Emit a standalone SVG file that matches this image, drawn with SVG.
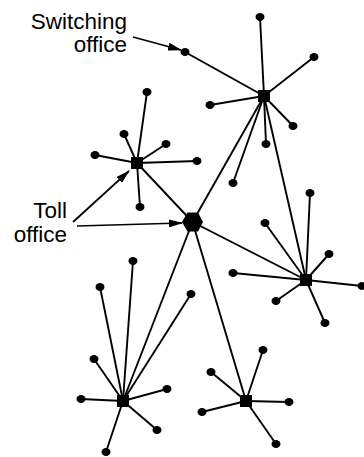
<svg xmlns="http://www.w3.org/2000/svg" width="364" height="457" viewBox="0 0 364 457">
  <style>
    .link { stroke: #000; stroke-width: 1.9; fill: none; }
    .ptr { stroke: #000; stroke-width: 1.7; fill: none; marker-end: url(#head); }
    .leaf { fill: #000; }
    .hub { fill: #000; }
    .label { font-family: "Liberation Sans", Arial, sans-serif; font-size: 22.5px; fill: #000; text-anchor: end; }
  </style>
  <defs>
    <marker id="head" viewBox="0 0 14 8" refX="13" refY="4" markerWidth="14" markerHeight="8" markerUnits="userSpaceOnUse" orient="auto">
      <path d="M0,0 L14,4 L0,8 Z" fill="#000"/>
    </marker>
  </defs>
  <rect width="364" height="457" fill="#fff"/>

  <!-- connectors: trunks between offices and local loops to subscribers -->
  <g id="connectors">
    <!-- trunks -->
    <line class="link" x1="192.5" y1="222" x2="264" y2="96"/>
    <line class="link" x1="192.5" y1="222" x2="137" y2="163"/>
    <line class="link" x1="192.5" y1="222" x2="306" y2="280"/>
    <line class="link" x1="192.5" y1="222" x2="123" y2="401"/>
    <line class="link" x1="192.5" y1="222" x2="246" y2="401"/>
    <line class="link" x1="264" y1="96" x2="306" y2="280"/>
    <!-- top office loops -->
    <line class="link" x1="264" y1="96" x2="260" y2="17"/>
    <line class="link" x1="264" y1="96" x2="185" y2="52"/>
    <line class="link" x1="264" y1="96" x2="314" y2="57"/>
    <line class="link" x1="264" y1="96" x2="210" y2="105"/>
    <line class="link" x1="264" y1="96" x2="293" y2="126"/>
    <line class="link" x1="264" y1="96" x2="266" y2="144"/>
    <line class="link" x1="264" y1="96" x2="233" y2="183"/>
    <!-- upper-left office loops -->
    <line class="link" x1="137" y1="163" x2="147" y2="92"/>
    <line class="link" x1="137" y1="163" x2="124" y2="134"/>
    <line class="link" x1="137" y1="163" x2="166" y2="144"/>
    <line class="link" x1="137" y1="163" x2="95" y2="155"/>
    <line class="link" x1="137" y1="163" x2="197" y2="161"/>
    <line class="link" x1="137" y1="163" x2="140" y2="207"/>
    <!-- right office loops -->
    <line class="link" x1="306" y1="280" x2="310" y2="193"/>
    <line class="link" x1="306" y1="280" x2="265" y2="223"/>
    <line class="link" x1="306" y1="280" x2="329" y2="254"/>
    <line class="link" x1="306" y1="280" x2="233" y2="273"/>
    <line class="link" x1="306" y1="280" x2="362" y2="286"/>
    <line class="link" x1="306" y1="280" x2="276" y2="301"/>
    <line class="link" x1="306" y1="280" x2="325" y2="323"/>
    <!-- bottom-left office loops -->
    <line class="link" x1="123" y1="401" x2="133" y2="261"/>
    <line class="link" x1="123" y1="401" x2="100" y2="287"/>
    <line class="link" x1="123" y1="401" x2="191" y2="294"/>
    <line class="link" x1="123" y1="401" x2="94" y2="359"/>
    <line class="link" x1="123" y1="401" x2="81" y2="399"/>
    <line class="link" x1="123" y1="401" x2="167" y2="389"/>
    <line class="link" x1="123" y1="401" x2="157" y2="430"/>
    <line class="link" x1="123" y1="401" x2="106" y2="452"/>
    <!-- bottom-right office loops -->
    <line class="link" x1="246" y1="401" x2="263" y2="350"/>
    <line class="link" x1="246" y1="401" x2="211" y2="372"/>
    <line class="link" x1="246" y1="401" x2="289" y2="402"/>
    <line class="link" x1="246" y1="401" x2="202" y2="412"/>
    <line class="link" x1="246" y1="401" x2="276" y2="444"/>
    <!-- label pointers -->
    <line class="ptr" x1="133" y1="37" x2="181" y2="50"/>
    <line class="ptr" x1="73" y1="222" x2="129" y2="171"/>
    <line class="ptr" x1="77" y1="226" x2="182" y2="223"/>
  </g>

  <!-- toll office -->
  <g id="toll-office">
    <polygon class="hub" points="182,222 187.5,212.5 198,212.5 203,222 198,231.5 187.5,231.5"/>
  </g>

  <!-- switching offices with their subscribers -->
  <g id="office-top">
    <rect class="hub" x="258" y="90" width="12" height="12"/>
    <ellipse class="leaf" cx="260" cy="17" rx="4.5" ry="4"/>
    <ellipse class="leaf" cx="185" cy="52" rx="4.5" ry="4"/>
    <ellipse class="leaf" cx="314" cy="57" rx="4.5" ry="4"/>
    <ellipse class="leaf" cx="210" cy="105" rx="4.5" ry="4"/>
    <ellipse class="leaf" cx="293" cy="126" rx="4.5" ry="4"/>
    <ellipse class="leaf" cx="266" cy="144" rx="4.5" ry="4"/>
    <ellipse class="leaf" cx="233" cy="183" rx="4.5" ry="4"/>
  </g>
  <g id="office-upper-left">
    <rect class="hub" x="131" y="157" width="12" height="12"/>
    <ellipse class="leaf" cx="147" cy="92" rx="4.5" ry="4"/>
    <ellipse class="leaf" cx="124" cy="134" rx="4.5" ry="4"/>
    <ellipse class="leaf" cx="166" cy="144" rx="4.5" ry="4"/>
    <ellipse class="leaf" cx="95" cy="155" rx="4.5" ry="4"/>
    <ellipse class="leaf" cx="197" cy="161" rx="4.5" ry="4"/>
    <ellipse class="leaf" cx="140" cy="207" rx="4.5" ry="4"/>
  </g>
  <g id="office-right">
    <rect class="hub" x="300" y="274" width="12" height="12"/>
    <ellipse class="leaf" cx="310" cy="193" rx="4.5" ry="4"/>
    <ellipse class="leaf" cx="265" cy="223" rx="4.5" ry="4"/>
    <ellipse class="leaf" cx="329" cy="254" rx="4.5" ry="4"/>
    <ellipse class="leaf" cx="233" cy="273" rx="4.5" ry="4"/>
    <ellipse class="leaf" cx="362" cy="286" rx="4.5" ry="4"/>
    <ellipse class="leaf" cx="276" cy="301" rx="4.5" ry="4"/>
    <ellipse class="leaf" cx="325" cy="323" rx="4.5" ry="4"/>
  </g>
  <g id="office-bottom-left">
    <rect class="hub" x="117" y="395" width="12" height="12"/>
    <ellipse class="leaf" cx="133" cy="261" rx="4.5" ry="4"/>
    <ellipse class="leaf" cx="100" cy="287" rx="4.5" ry="4"/>
    <ellipse class="leaf" cx="191" cy="294" rx="4.5" ry="4"/>
    <ellipse class="leaf" cx="94" cy="359" rx="4.5" ry="4"/>
    <ellipse class="leaf" cx="81" cy="399" rx="4.5" ry="4"/>
    <ellipse class="leaf" cx="167" cy="389" rx="4.5" ry="4"/>
    <ellipse class="leaf" cx="157" cy="430" rx="4.5" ry="4"/>
    <ellipse class="leaf" cx="106" cy="452" rx="4.5" ry="4"/>
  </g>
  <g id="office-bottom-right">
    <rect class="hub" x="240" y="395" width="12" height="12"/>
    <ellipse class="leaf" cx="263" cy="350" rx="4.5" ry="4"/>
    <ellipse class="leaf" cx="211" cy="372" rx="4.5" ry="4"/>
    <ellipse class="leaf" cx="289" cy="402" rx="4.5" ry="4"/>
    <ellipse class="leaf" cx="202" cy="412" rx="4.5" ry="4"/>
    <ellipse class="leaf" cx="276" cy="444" rx="4.5" ry="4"/>
  </g>

  <!-- labels -->
  <g id="label-switching">
    <text class="label" x="127" y="28.5">Switching</text>
    <text class="label" x="127" y="52">office</text>
  </g>
  <g id="label-toll">
    <text class="label" x="67" y="217.5">Toll</text>
    <text class="label" x="67" y="242">office</text>
  </g>
</svg>
